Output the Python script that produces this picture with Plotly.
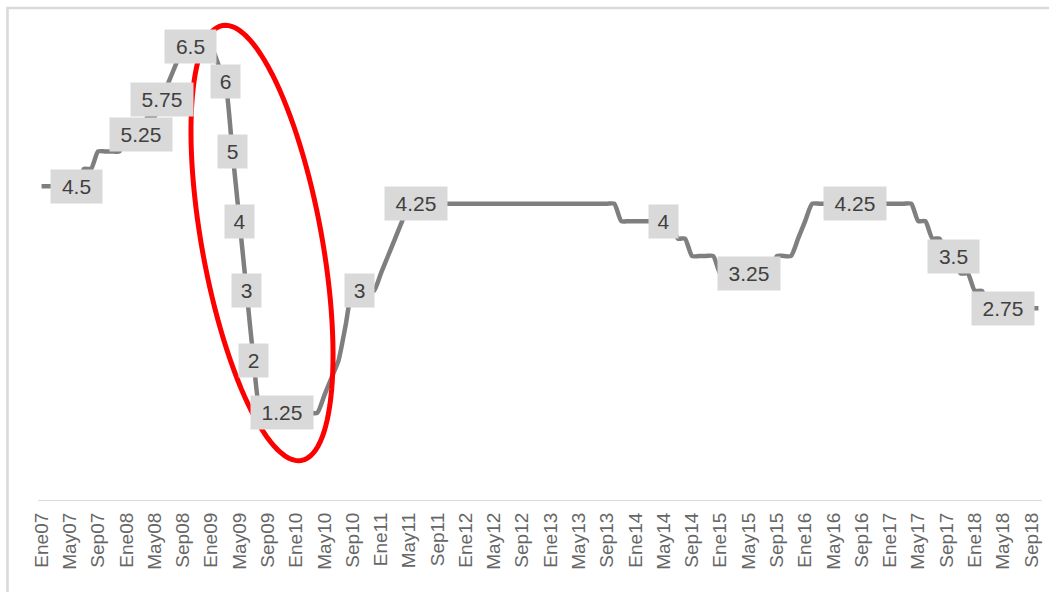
import math
import plotly.graph_objects as go

# Monthly policy reference rate (%), Jan 2007 - Oct 2018
meses = ["Ene", "Feb", "Mar", "Abr", "May", "Jun", "Jul", "Ago", "Sep", "Oct", "Nov", "Dic"]
anios = ["07", "08", "09", "10", "11", "12", "13", "14", "15", "16", "17", "18"]

tasa_2007 = [4.5, 4.5, 4.5, 4.5, 4.5, 4.5, 4.75, 4.75, 5.0, 5.0, 5.0, 5.0]
tasa_2008 = [5.25, 5.25, 5.25, 5.5, 5.5, 5.75, 6.0, 6.25, 6.5, 6.5, 6.5, 6.5]
tasa_2009 = [6.5, 6.25, 6.0, 5.0, 4.0, 3.0, 2.0, 1.25, 1.25, 1.25, 1.25, 1.25]
tasa_2010 = [1.25, 1.25, 1.25, 1.25, 1.5, 1.75, 2.0, 2.5, 3.0, 3.0, 3.0, 3.0]
tasa_2011 = [3.25, 3.5, 3.75, 4.0, 4.25, 4.25, 4.25, 4.25, 4.25, 4.25, 4.25, 4.25]
tasa_2012 = [4.25, 4.25, 4.25, 4.25, 4.25, 4.25, 4.25, 4.25, 4.25, 4.25, 4.25, 4.25]
tasa_2013 = [4.25, 4.25, 4.25, 4.25, 4.25, 4.25, 4.25, 4.25, 4.25, 4.25, 4.0, 4.0]
tasa_2014 = [4.0, 4.0, 4.0, 4.0, 4.0, 4.0, 3.75, 3.75, 3.5, 3.5, 3.5, 3.5]
tasa_2015 = [3.25, 3.25, 3.25, 3.25, 3.25, 3.25, 3.25, 3.25, 3.5, 3.5, 3.5, 3.75]
tasa_2016 = [4.0, 4.25, 4.25, 4.25, 4.25, 4.25, 4.25, 4.25, 4.25, 4.25, 4.25, 4.25]
tasa_2017 = [4.25, 4.25, 4.25, 4.25, 4.0, 4.0, 3.75, 3.75, 3.5, 3.5, 3.25, 3.25]
tasa_2018 = [3.0, 3.0, 2.75, 2.75, 2.75, 2.75, 2.75, 2.75, 2.75, 2.75]

# Months that carry a value label
etiquetas = ["Jun07", "Mar08", "Jun08", "Oct08", "Mar09", "Abr09", "May09", "Jun09",
             "Jul09", "Nov09", "Oct10", "Jun11", "May14", "May15", "Ago16", "Oct17", "May18"]

tasa = (tasa_2007 + tasa_2008 + tasa_2009 + tasa_2010 + tasa_2011 + tasa_2012 +
        tasa_2013 + tasa_2014 + tasa_2015 + tasa_2016 + tasa_2017 + tasa_2018)
periodos = [m + a for a in anios for m in meses][:len(tasa)]
marcas = periodos[::4]

# Figure geometry (pixels)
W, H = 1049, 592
ML, MR, MT, MB = 38, 7, 12, 92
PW, PH = W - ML - MR, H - MT - MB


def px_to_paper(px, py):
    return (px - ML) / PW, (H - MB - py) / PH


fig = go.Figure()
fig.add_trace(go.Scatter(
    x=periodos, y=tasa, mode="lines",
    line=dict(color="#7f7f7f", width=4.5, shape="spline", smoothing=0.6),
    hoverinfo="x+y", showlegend=False,
))

# Value labels in grey boxes
anotaciones = []
for p in etiquetas:
    v = tasa[periodos.index(p)]
    txt = f"{v:g}"
    anotaciones.append(dict(
        x=p, y=v, xref="x", yref="y", text=txt, showarrow=False,
        xanchor="center", yanchor="middle",
        font=dict(family="Liberation Sans, Arial, sans-serif", size=21, color="#404040"),
        bgcolor="#d9d9d9", borderpad=2, width=11 * len(txt) + 14, height=29,
    ))

# Red highlight ellipse (tilted), built as an SVG path in paper units
cx, cy = 262, 243          # center, px
a_ax, b_ax = 221, 60       # semi-axes, px
theta = math.radians(10.3)  # tilt of major axis from vertical
pts = []
for k in range(121):
    t = 2 * math.pi * k / 120
    u = a_ax * math.cos(t)
    w = b_ax * math.sin(t)
    px = cx + u * math.sin(theta) + w * math.cos(theta)
    py = cy + u * math.cos(theta) - w * math.sin(theta)
    pts.append(px_to_paper(px, py))
path = "M " + " L ".join(f"{x:.5f},{y:.5f}" for x, y in pts) + " Z"

bx0, by0 = px_to_paper(7.5, 8)
bx1, by1 = px_to_paper(W + 20, H + 20)

fig.update_layout(
    width=W, height=H,
    margin=dict(l=ML, r=MR, t=MT, b=MB, pad=0),
    paper_bgcolor="white", plot_bgcolor="white",
    annotations=anotaciones,
    shapes=[
        dict(type="path", path=path, xref="paper", yref="paper",
             line=dict(color="#ff0000", width=5)),
        dict(type="rect", xref="paper", yref="paper",
             x0=bx0, y0=by0, x1=bx1, y1=by1,
             line=dict(color="#d9d9d9", width=2.5), layer="below"),
    ],
    xaxis=dict(
        type="category", range=[-0.5, len(tasa) - 0.5],
        tickmode="array", tickvals=marcas, ticktext=marcas, tickangle=-90,
        showline=True, linecolor="#d9d9d9", linewidth=1.2,
        showgrid=False, zeroline=False,
        ticks="outside", ticklen=4, tickcolor="rgba(0,0,0,0)",
        tickfont=dict(family="Liberation Sans, Arial, sans-serif", size=19, color="#666666"),
    ),
    yaxis=dict(
        range=[0, 7], visible=False, showgrid=False, zeroline=False,
    ),
)

fig.write_html("out.html")
